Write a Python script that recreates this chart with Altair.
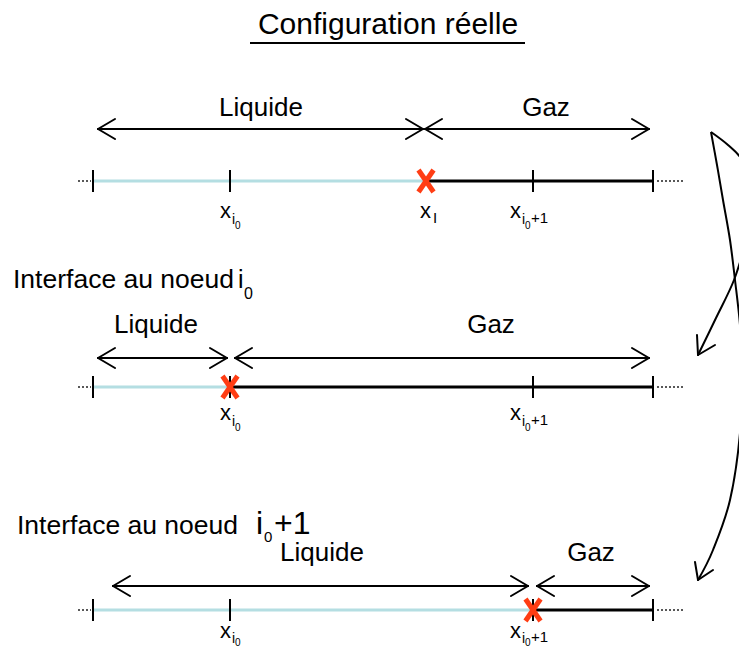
import altair as alt
import pandas as pd

# ---------------- diagram data (picture coordinates, px) ----------------
W, H = 731, 640
X_DOMAIN = [8, 739]
Y_DOMAIN = [8, 648]

title_text = "Configuration réelle"
title_x, title_y = 388, 34
underline = [250, 525, 43]

row_axis_y = [181, 387, 610]
interface_x = [426, 230, 533]
node_left, node_right = 93, 653
node_ticks = [[93, 230, 533, 653], [93, 230, 533, 653], [93, 230, 533, 653]]
dots_left = [78, 91]
dots_right = [657, 683]

arrow_y = [129, 358, 586]
liq_arrow = [(98, 423), (98, 227), (113, 528)]
gaz_arrow = [(425, 649), (235, 649), (537, 649)]
phase_names = ["Liquide", "Gaz"]
liq_label_x = [261, 156, 322]
gaz_label_x = [546, 491, 591]
phase_label_y = [116, 333, 561]

# node labels: (row, left x of "x", subscript kind)
node_label_base = [218, 420, 638]
node_labels = [
    (0, 220, "i0"), (0, 420, "I"), (0, 510, "i0+1"),
    (1, 220, "i0"), (1, 510, "i0+1"),
    (2, 220, "i0"), (2, 510, "i0+1"),
]

header_texts = ["Interface au noeud", "Interface au noeud"]
header_x = [13, 17]
header_y = [288, 534]

# curved arrows on the right (polyline points, smoothed)
arc_short_x = [711, 728, 742, 750, 751, 746, 734, 716, 698]
arc_short_y = [132, 145, 160, 185, 212, 240, 280, 318, 355]
arc_long_x = [711, 717, 723, 730, 735, 740, 742, 740, 730, 713, 698]
arc_long_y = [132, 165, 200, 240, 280, 325, 367, 433, 500, 550, 580]
arc_heads = [((698, 355), (697, 335), (715, 345)), ((698, 580), (695, 562), (713, 570))]

RED = "#ff3d14"
LIGHT = "#b4dee2"
FONT = "Liberation Sans"

# ---------------- build tables ----------------
segs = []
def seg(kind, x, y, x2, y2):
    segs.append(dict(kind=kind, x=x, y=y, x2=x2, y2=y2))

for r in range(3):
    ay = row_axis_y[r]
    ix = interface_x[r]
    seg("liquid", node_left, ay, ix - 3, ay)
    seg("gas", ix, ay, node_right, ay)
    seg("dots", dots_left[0], ay, dots_left[1], ay)
    seg("dots", dots_right[0], ay, dots_right[1], ay)
    for t in node_ticks[r]:
        seg("tick", t, ay - 11, t, ay + 11)
    seg("cross", ix - 7.5, ay - 11, ix + 7.5, ay + 11)
    seg("cross", ix - 7.5, ay + 11, ix + 7.5, ay - 11)
    y = arrow_y[r]
    for (a, b) in (liq_arrow[r], gaz_arrow[r]):
        seg("arrow", a, y, b, y)
        seg("arrow", a, y, a + 17, y - 10)
        seg("arrow", a, y, a + 17, y + 10)
        seg("arrow", b, y, b - 17, y - 10)
        seg("arrow", b, y, b - 17, y + 10)

for tip, p1, p2 in arc_heads:
    seg("arrow", tip[0], tip[1], p1[0], p1[1])
    seg("arrow", tip[0], tip[1], p2[0], p2[1])

seg("underline", underline[0], underline[2], underline[1], underline[2])
segs = pd.DataFrame(segs)

arcs = pd.DataFrame(
    [dict(arc="short", i=i, x=x, y=y) for i, (x, y) in enumerate(zip(arc_short_x, arc_short_y))]
    + [dict(arc="long", i=i, x=x, y=y) for i, (x, y) in enumerate(zip(arc_long_x, arc_long_y))]
)

# text pieces
center_txt = [dict(t=title_text, x=title_x, y=title_y, s=30)]
for r in range(3):
    center_txt.append(dict(t=phase_names[0], x=liq_label_x[r], y=phase_label_y[r], s=26))
    center_txt.append(dict(t=phase_names[1], x=gaz_label_x[r], y=phase_label_y[r], s=26))
center_txt = pd.DataFrame(center_txt)

left_txt = []
for r, lx, sub in node_labels:
    b = node_label_base[r]
    d1, d2 = (6, 11) if r < 2 else (5, 8)
    left_txt.append(dict(t="x", x=lx, y=b, s=22))
    if sub == "I":
        left_txt.append(dict(t="I", x=lx + 13, y=b + 5, s=15))
    else:
        left_txt.append(dict(t="i", x=lx + 12, y=b + d1, s=14))
        left_txt.append(dict(t="0", x=lx + 15, y=b + d2, s=10))
        if sub == "i0+1":
            left_txt.append(dict(t="+1", x=lx + 21, y=b + d1 - 1, s=15))
left_txt.append(dict(t=header_texts[0], x=header_x[0], y=header_y[0], s=26.5))
left_txt.append(dict(t="i", x=238, y=header_y[0], s=25))
left_txt.append(dict(t="0", x=244, y=header_y[0] + 11, s=16))
left_txt.append(dict(t=header_texts[1], x=header_x[1], y=header_y[1], s=26.5))
left_txt.append(dict(t="i", x=256, y=header_y[1], s=32))
left_txt.append(dict(t="0", x=264, y=header_y[1] + 8, s=15))
left_txt.append(dict(t="+1", x=274, y=header_y[1], s=32))
left_txt = pd.DataFrame(left_txt)

# ---------------- chart ----------------
xs = alt.Scale(domain=X_DOMAIN, nice=False, zero=False)
ys = alt.Scale(domain=Y_DOMAIN, nice=False, zero=False, reverse=True)

def rules(kind, **mk):
    return alt.Chart(segs).transform_filter(alt.datum.kind == kind).mark_rule(**mk).encode(
        x=alt.X("x:Q", scale=xs, axis=None),
        y=alt.Y("y:Q", scale=ys, axis=None),
        x2="x2:Q",
        y2="y2:Q",
    )

layers = [
    rules("liquid", color=LIGHT, strokeWidth=3),
    rules("gas", color="black", strokeWidth=3),
    rules("dots", color="#222", strokeWidth=1.5, strokeDash=[2, 2]),
    rules("tick", color="black", strokeWidth=2),
    rules("arrow", color="black", strokeWidth=2, strokeCap="round"),
    rules("underline", color="black", strokeWidth=2),
    rules("cross", color=RED, strokeWidth=5),
    alt.Chart(arcs).mark_line(color="black", strokeWidth=2, interpolate="cardinal", clip=True).encode(
        x=alt.X("x:Q", scale=xs, axis=None),
        y=alt.Y("y:Q", scale=ys, axis=None),
        detail="arc:N",
        order="i:Q",
    ),
    alt.Chart(center_txt).mark_text(align="center", baseline="alphabetic", font=FONT, color="black").encode(
        x=alt.X("x:Q", scale=xs, axis=None),
        y=alt.Y("y:Q", scale=ys, axis=None),
        text="t:N",
        size=alt.Size("s:Q", scale=None, legend=None),
    ),
    alt.Chart(left_txt).mark_text(align="left", baseline="alphabetic", font=FONT, color="black").encode(
        x=alt.X("x:Q", scale=xs, axis=None),
        y=alt.Y("y:Q", scale=ys, axis=None),
        text="t:N",
        size=alt.Size("s:Q", scale=None, legend=None),
    ),
]

chart = alt.layer(*layers).properties(
    width=W, height=H, padding=0, autosize=alt.AutoSizeParams(type="none")
).configure_view(stroke=None)

chart.save("out.html", embed_options={"renderer": "svg", "actions": False})
